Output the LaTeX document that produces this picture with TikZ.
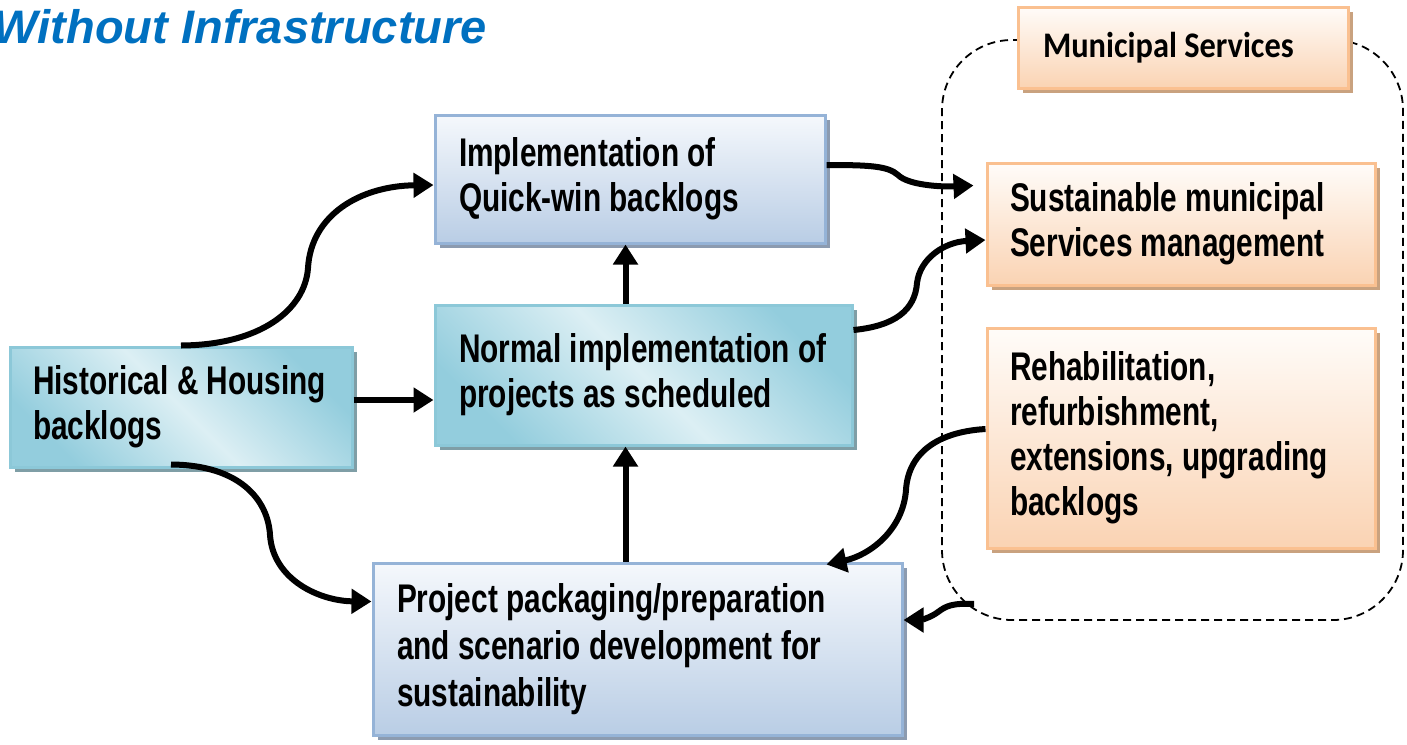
\documentclass[tikz,border=0pt]{standalone}
\usepackage{fontspec}
\usetikzlibrary{arrows.meta,shadows,calc}
\newfontfamily\boxfont[FakeStretch=0.745]{Liberation Sans}
\newfontfamily\msfont[FakeStretch=0.9]{Carlito}
\newfontfamily\ttlfont{Liberation Sans}
\newcommand{\boxtext}[3]{\parbox{#1}{\parindent=0pt\leftskip=#2\rightskip=0pt plus 1fil\parfillskip=0pt plus 1fil #3}}
\definecolor{blueTop}{HTML}{F5F8FC}
\definecolor{blueBot}{HTML}{B9CDE5}
\definecolor{blueBorder}{HTML}{95B3D7}
\definecolor{blueShadow}{HTML}{8C9BB0}
\definecolor{tealDark}{HTML}{93CDDD}
\definecolor{tealLight}{HTML}{DCEFF4}
\definecolor{tealBorder}{HTML}{8CC8D8}
\definecolor{tealShadow}{HTML}{7F9EA6}
\definecolor{orTop}{HTML}{FFFCF9}
\definecolor{orBot}{HTML}{FAD3B3}
\definecolor{orBorder}{HTML}{FAC090}
\definecolor{orShadow}{HTML}{C9A27F}
\definecolor{titleBlue}{HTML}{0070C0}
\begin{document}
\begin{tikzpicture}[x=1pt,y=-1pt,
  box/.style={inner sep=0pt, line width=3pt,
    font=\boxfont\bfseries\fontsize{40}{45}\selectfont},
  bluebox/.style={box, draw=blueBorder, top color=blueTop, bottom color=blueBot,
    drop shadow={shadow xshift=5pt, shadow yshift=-5pt, fill=blueShadow, opacity=1}},
  tealbox/.style={box, draw=tealBorder, top color=tealDark, bottom color=tealDark,
    middle color=tealLight, shading angle=-45,
    drop shadow={shadow xshift=5pt, shadow yshift=-5pt, fill=tealShadow, opacity=1}},
  orbox/.style={box, draw=orBorder, top color=orTop, bottom color=orBot,
    drop shadow={shadow xshift=5pt, shadow yshift=-5pt, fill=orShadow, opacity=1}},
  region/.style={draw=black, dash pattern=on 8pt off 5pt, line width=1.8pt, rounded corners=70pt},
  arr/.style={draw=black, line width=6pt, -{Triangle[length=20pt,width=24pt]}},
  ttl/.style={font=\ttlfont\bfseries\itshape\fontsize{47}{50}\selectfont, text=titleBlue, inner sep=0pt}
]
\useasboundingbox (0,0) rectangle (1407,744);

\node[ttl, anchor=base east] (T) at (487,43) {Without Infrastructure};

\node[region, minimum width=461pt, minimum height=580pt] (R) at (1172.5,330) {};

\node[bluebox, minimum width=390pt, minimum height=128pt] (A) at (630,179)
  {\boxtext{390pt}{24pt}{Implementation of\\Quick-win backlogs}};
\node[tealbox, minimum width=417pt, minimum height=140pt] (B) at (643.5,375)
  {\raisebox{10pt}{\boxtext{417pt}{24pt}{Normal implementation of\\projects as scheduled}}};
\node[tealbox, minimum width=342pt, minimum height=120pt] (C) at (181,407)
  {\boxtext{342pt}{23pt}{Historical \& Housing\\backlogs}};
\node[bluebox, minimum width=529pt, minimum height=172pt, font=\boxfont\bfseries\fontsize{40}{47}\selectfont] (D) at (637.5,649)
  {\boxtext{529pt}{24pt}{Project packaging/preparation\\and scenario development for\\sustainability}};
\node[orbox, minimum width=330pt, minimum height=81pt, font=\msfont\bfseries\fontsize{36}{40}\selectfont] (E) at (1183,47.5)
  {\boxtext{330pt}{25pt}{Municipal Services}};
\node[orbox, minimum width=388pt, minimum height=122pt] (F) at (1181,224)
  {\boxtext{388pt}{23pt}{Sustainable municipal\\Services management}};
\node[orbox, minimum width=388pt, minimum height=220pt] (G) at (1181,438)
  {\boxtext{388pt}{23pt}{Rehabilitation,\\refurbishment,\\extensions, upgrading\\backlogs}};

% connectors
\draw[arr] (C.north) .. controls (260,345) and (305,310) .. (308,268)
  .. controls (311,215) and (360,186) .. ([yshift=-6pt]A.west);
\draw[arr] ([yshift=7pt]C.east) -- ([yshift=7pt]C.east -| B.west);
\draw[arr] ([xshift=-10pt,yshift=4pt]C.south) .. controls (240,465) and (268,500) .. (270,535)
  .. controls (273,580) and (320,601) .. ([yshift=-40pt]D.north west);
\draw[arr] ([xshift=-18pt]B.north) -- ([xshift=-18pt]B.north |- A.south);
\draw[arr] ([xshift=-12pt]D.north) -- ([xshift=-12pt]D.north |- B.south);
\draw[arr] ([yshift=14pt]A.east) .. controls (870,165) and (888,166) .. (898,175)
  .. controls (908,185) and (940,187) .. ([xshift=-12pt,yshift=-24pt]F.north west);
\draw[arr] ([yshift=45pt]B.east) .. controls (895,326) and (915,310) .. (917,283)
  .. controls (920,258) and (945,242) .. ([yshift=-16pt]F.west);
\draw[arr] ([yshift=9pt]G.west) .. controls (935,432) and (908,455) .. (906,490)
  .. controls (903,530) and (870,555) .. ([xshift=-77pt,yshift=-3pt]D.north east);
\draw[arr] ([xshift=33pt,yshift=17pt]R.south west) .. controls (952,603) and (946,606) .. (938,612)
  .. controls (930,618) and (920,620) .. ([yshift=29pt]D.east);
\end{tikzpicture}
\end{document}
